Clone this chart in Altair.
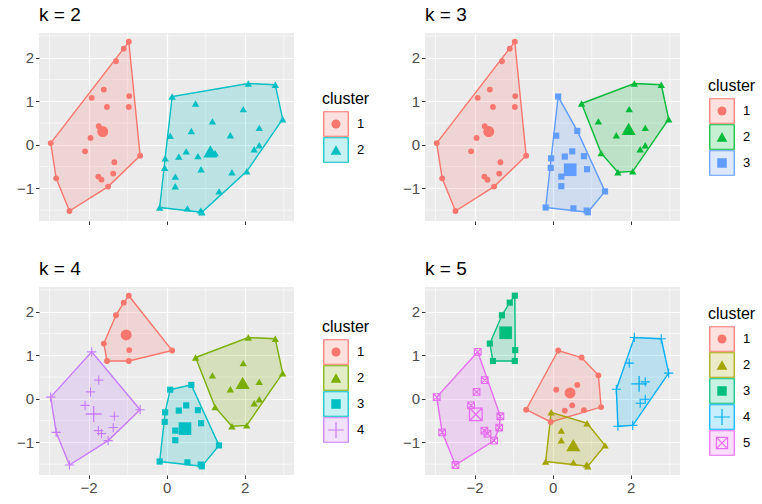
import altair as alt
import pandas as pd

# ---- data: PCA coordinates of the 49 observations ----
px = [-0.97, -1.10, -1.30, -1.61, -1.53, -0.97, -0.96,
      -1.92, -1.74, -1.95, -2.97, -2.09, -1.34, -1.37, -1.75, -1.67, -1.50, -2.83, -2.49,
      -0.68,
      0.14, 0.74, 1.17, 1.24, 0.80, 0.31, 0.50, 0.09, 0.63, -0.05,
      -0.04, 0.88, 1.34, 0.87, 0.53, -0.18, 0.22, 0.22, 0.90,
      2.09, 2.78, 2.97, 1.96, 1.63, 2.37, 2.37, 2.24, 2.05, 1.67]
py = [2.37, 2.21, 1.92, 1.27, 0.87, 0.87, 1.12,
      1.08, 0.43, 0.16, 0.04, -0.15, -0.40, -0.66, -0.73, -0.80, -0.96, -0.77, -1.52,
      -0.25,
      1.11, 0.95, 0.54, -0.19, -0.26, -0.27, -0.15, 0.21, 0.32, -0.53,
      -0.31, -0.56, -1.07, -1.51, -1.46, -1.44, -0.73, -0.95, -1.55,
      1.41, 1.38, 0.59, 0.82, 0.22, 0.39, -0.01, -0.10, -0.61, -0.63]

# cluster memberships for each k
k2 = [1, 1, 1, 1, 1, 1, 1,
      1, 1, 1, 1, 1, 1, 1, 1, 1, 1, 1, 1,
      1,
      2, 2, 2, 2, 2, 2, 2, 2, 2, 2,
      2, 2, 2, 2, 2, 2, 2, 2, 2,
      2, 2, 2, 2, 2, 2, 2, 2, 2, 2]
k3 = [1, 1, 1, 1, 1, 1, 1,
      1, 1, 1, 1, 1, 1, 1, 1, 1, 1, 1, 1,
      1,
      3, 2, 2, 2, 3, 3, 3, 3, 3, 3,
      3, 3, 3, 3, 3, 3, 3, 3, 3,
      2, 2, 2, 2, 2, 2, 2, 2, 2, 2]
k4 = [1, 1, 1, 1, 1, 1, 1,
      4, 4, 4, 4, 4, 4, 4, 4, 4, 4, 4, 4,
      4,
      1, 2, 2, 2, 3, 3, 3, 3, 3, 3,
      3, 3, 3, 3, 3, 3, 3, 3, 3,
      2, 2, 2, 2, 2, 2, 2, 2, 2, 2]
k5 = [3, 3, 3, 3, 3, 3, 3,
      5, 5, 5, 5, 5, 5, 5, 5, 5, 5, 5, 5,
      1,
      1, 1, 1, 1, 1, 1, 1, 1, 1, 1,
      2, 2, 2, 2, 2, 2, 2, 2, 2,
      4, 4, 4, 4, 4, 4, 4, 4, 4, 4]

x_ticks = [-2, 0, 2]
y_ticks = [-1, 0, 1, 2]
x_minor = [-3, -1, 1, 3]
y_minor = [-1.5, -0.5, 0.5, 1.5, 2.5]
x_domain = [-3.27, 3.26]
y_domain = [-1.75, 2.57]

PAL = {
    2: ["#F8766D", "#00BFC4"],
    3: ["#F8766D", "#00BA38", "#619CFF"],
    4: ["#F8766D", "#7CAE00", "#00BFC4", "#C77CFF"],
    5: ["#F8766D", "#A3A500", "#00BF7D", "#00B0F6", "#E76BF3"],
}
PLUS = "M-1,0L1,0M0,-1L0,1"
BOXX = "M-1,-1L1,-1L1,1L-1,1Z M-1,-1L1,1 M-1,1L1,-1"
SHAPE = {1: ("circle", True), 2: ("triangle-up", True), 3: ("square", True),
         4: (PLUS, False), 5: (BOXX, False)}
SIZE_PT = {1: 34, 2: 55, 3: 38, 4: 85, 5: 45}
SIZE_CEN = {1: 120, 2: 200, 3: 160, 4: 250, 5: 160}
SIZE_LEG = {1: 80, 2: 115, 3: 90, 4: 250, 5: 125}

FONT = "Liberation Sans"
PW, PH = 255, 188


def convex_hull(points):
    pts = sorted(set(points))
    if len(pts) <= 2:
        return pts

    def cross(o, a, b):
        return (a[0] - o[0]) * (b[1] - o[1]) - (a[1] - o[1]) * (b[0] - o[0])

    lower, upper = [], []
    for p in pts:
        while len(lower) >= 2 and cross(lower[-2], lower[-1], p) <= 0:
            lower.pop()
        lower.append(p)
    for p in reversed(pts):
        while len(upper) >= 2 and cross(upper[-2], upper[-1], p) <= 0:
            upper.pop()
        upper.append(p)
    return lower[:-1] + upper[:-1]


def title_params(text):
    return alt.TitleParams(text=text, anchor="start", frame="group", font=FONT,
                           fontSize=19, fontWeight="normal", color="black", offset=8)


def panel(labels, k, show_xlabels):
    cols = PAL[k]
    df = pd.DataFrame({"x": px, "y": py, "cluster": labels})
    xs = alt.X("x:Q", scale=alt.Scale(domain=x_domain, nice=False, zero=False),
               axis=alt.Axis(values=x_ticks, labels=show_xlabels, title=None))
    ys = alt.Y("y:Q", scale=alt.Scale(domain=y_domain, nice=False, zero=False),
               axis=alt.Axis(values=y_ticks, title=None))
    layers = [
        alt.Chart(pd.DataFrame({"x": x_minor})).mark_rule(color="white", strokeWidth=0.6).encode(x=xs),
        alt.Chart(pd.DataFrame({"y": y_minor})).mark_rule(color="white", strokeWidth=0.6).encode(y=ys),
    ]
    # hulls
    for c in range(1, k + 1):
        sub = [(px[i], py[i]) for i in range(len(px)) if labels[i] == c]
        h = convex_hull(sub)
        hd = pd.DataFrame({"x": [p[0] for p in h], "y": [p[1] for p in h], "o": list(range(len(h)))})
        layers.append(
            alt.Chart(hd).mark_line(interpolate="linear-closed", fill=cols[c - 1], fillOpacity=0.2,
                                    stroke=cols[c - 1], strokeWidth=1.4)
            .encode(x=xs, y=ys, order=alt.Order("o:Q"))
        )
    # points
    for c in range(1, k + 1):
        shp, filled = SHAPE[c]
        layers.append(
            alt.Chart(df).transform_filter(alt.datum.cluster == c)
            .mark_point(shape=shp, filled=filled, size=SIZE_PT[c], color=cols[c - 1], opacity=1,
                        strokeWidth=1.1)
            .encode(x=xs, y=ys)
        )
    # centroids
    for c in range(1, k + 1):
        shp, filled = SHAPE[c]
        layers.append(
            alt.Chart(df).transform_filter(alt.datum.cluster == c)
            .mark_point(shape=shp, filled=filled, size=SIZE_CEN[c], color=cols[c - 1], opacity=1,
                        strokeWidth=1.3)
            .encode(x=alt.X("mean(x):Q", scale=alt.Scale(domain=x_domain, nice=False, zero=False),
                            axis=alt.Axis(values=x_ticks, labels=show_xlabels, title=None)),
                    y=alt.Y("mean(y):Q", scale=alt.Scale(domain=y_domain, nice=False, zero=False),
                            axis=alt.Axis(values=y_ticks, title=None)))
        )
    return alt.layer(*layers).properties(
        width=PW, height=PH, title=title_params(f"k = {k}"),
        view=alt.ViewBackground(fill="#EBEBEB", stroke=None),
    )


def legend_chart(k, W):
    cols = PAL[k]
    names = [str(i) for i in range(1, k + 1)]
    ld = pd.DataFrame({"cluster": names})
    step = 26
    block = 20 + step * k
    top = PH / 2 - block / 2
    yscale = alt.Scale(type="band", domain=names, range=[top + 20, top + 20 + step * k],
                       paddingInner=0, paddingOuter=0)
    yenc = alt.Y("cluster:N", scale=yscale, axis=None)
    bx = 41
    layers = [
        alt.Chart(pd.DataFrame({"t": ["cluster"]})).mark_text(
            align="left", baseline="middle", font=FONT, fontSize=16, color="black"
        ).encode(x=alt.value(bx - 14), y=alt.value(top + 8), text="t:N"),
    ]
    for c in range(1, k + 1):
        layers.append(
            alt.Chart(ld).transform_filter(alt.datum.cluster == str(c))
            .mark_square(size=600, fill=cols[c - 1], fillOpacity=0.22, stroke=cols[c - 1],
                         strokeWidth=1.2, strokeOpacity=1, opacity=1)
            .encode(x=alt.value(bx), y=yenc)
        )
    for c in range(1, k + 1):
        shp, filled = SHAPE[c]
        layers.append(
            alt.Chart(ld).transform_filter(alt.datum.cluster == str(c))
            .mark_point(shape=shp, filled=filled, size=SIZE_LEG[c], color=cols[c - 1], opacity=1,
                        strokeWidth=1.2)
            .encode(x=alt.value(bx), y=yenc)
        )
    layers.append(
        alt.Chart(ld).mark_text(align="left", baseline="middle", font=FONT, fontSize=13, color="black")
        .encode(x=alt.value(bx + 21), y=yenc, text="cluster:N")
    )
    return alt.layer(*layers).properties(
        width=W, height=PH, title=title_params(" "),
        view=alt.ViewBackground(fill=None, stroke=None),
    )


row1 = alt.hconcat(panel(k2, 2, False), legend_chart(2, 107), panel(k3, 3, False), legend_chart(3, 80),
                   spacing=0)
row2 = alt.hconcat(panel(k4, 4, True), legend_chart(4, 107), panel(k5, 5, True), legend_chart(5, 80),
                   spacing=0)

chart = alt.vconcat(row1, row2, spacing=34).properties(
    padding={"left": 16, "top": 5, "right": 0, "bottom": 0},
    background="white",
).configure_axis(
    grid=True, gridColor="white", gridWidth=1.2, domain=False,
    tickColor="#333333", tickSize=3.5, tickWidth=1,
    labelColor="#4D4D4D", labelFont=FONT, labelFontSize=15, labelPadding=2,
).configure_view(stroke=None)

chart.save("out.html", embed_options={"renderer": "svg", "actions": False})
